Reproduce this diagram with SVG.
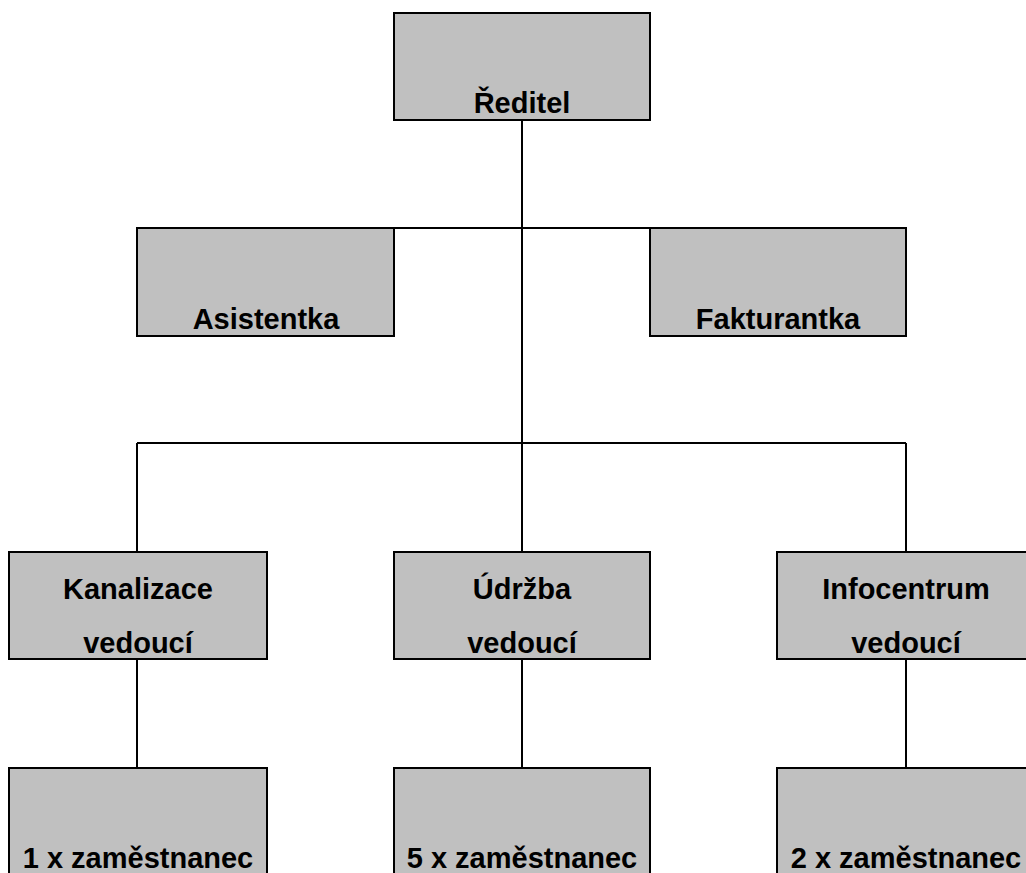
<svg xmlns="http://www.w3.org/2000/svg" width="1026" height="873" viewBox="0 0 1026 873">
<style>
.box{fill:#c0c0c0;stroke:#000;stroke-width:2}
.t{font-family:"Liberation Sans",Arial,sans-serif;font-weight:bold;font-size:29px;text-anchor:middle;fill:#000}
.c{stroke:#000;stroke-width:2;fill:none}
</style>
<rect width="1026" height="873" fill="#fff"/>
<g id="connectors">
<line class="c" x1="522" y1="120" x2="522" y2="443"/>
<line class="c" x1="394" y1="228" x2="650" y2="228"/>
<line class="c" x1="137" y1="443" x2="906" y2="443"/>
<line class="c" x1="137" y1="443" x2="137" y2="552"/>
<line class="c" x1="522" y1="443" x2="522" y2="552"/>
<line class="c" x1="906" y1="443" x2="906" y2="552"/>
<line class="c" x1="137" y1="659" x2="137" y2="768"/>
<line class="c" x1="522" y1="659" x2="522" y2="768"/>
<line class="c" x1="906" y1="659" x2="906" y2="768"/>
</g>
<g id="reditel"><rect class="box" x="394" y="13" width="256" height="107"/><text class="t" x="522" y="113">Ředitel</text></g>
<g id="asistentka"><rect class="box" x="137" y="228" width="257" height="108"/><text class="t" x="266" y="329">Asistentka</text></g>
<g id="fakturantka"><rect class="box" x="650" y="228" width="256" height="108"/><text class="t" x="778" y="329">Fakturantka</text></g>
<g id="kanalizace"><rect class="box" x="9" y="552" width="258" height="107"/><text class="t" x="138" y="599">Kanalizace</text><text class="t" x="138" y="653">vedoucí</text></g>
<g id="udrzba"><rect class="box" x="394" y="552" width="256" height="107"/><text class="t" x="522" y="599">Údržba</text><text class="t" x="522" y="653">vedoucí</text></g>
<g id="infocentrum"><rect class="box" x="777" y="552" width="258" height="107"/><text class="t" x="906" y="599">Infocentrum</text><text class="t" x="906" y="653">vedoucí</text></g>
<g id="zam1"><rect class="box" x="9" y="768" width="258" height="120"/><text class="t" x="138" y="868">1 x zaměstnanec</text></g>
<g id="zam5"><rect class="box" x="394" y="768" width="256" height="120"/><text class="t" x="522" y="868">5 x zaměstnanec</text></g>
<g id="zam2"><rect class="box" x="777" y="768" width="258" height="120"/><text class="t" x="906" y="868">2 x zaměstnanec</text></g>
</svg>
